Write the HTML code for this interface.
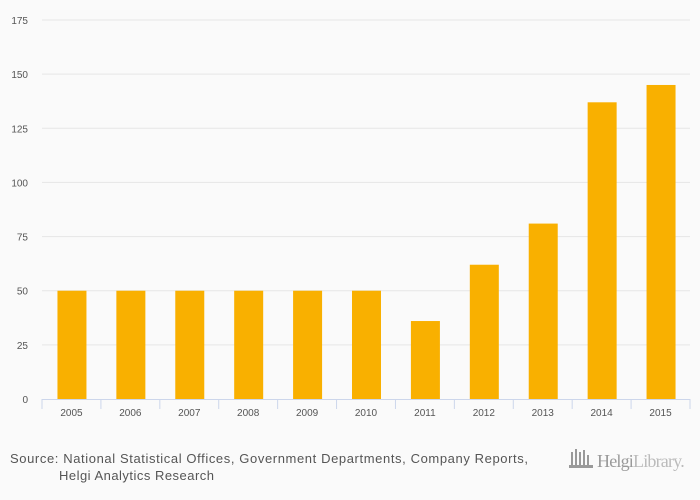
<!DOCTYPE html>
<html><head><meta charset="utf-8"><style>
body{margin:0;background:#fafafa;font-family:"Liberation Sans",sans-serif}
svg{display:block}
</style></head><body>
<svg id="chart" width="700" height="500">
<rect width="700" height="500" fill="#fafafa"/>
<g id="grid"></g><g id="bars"></g><g id="xaxis"></g>
<text x="10" y="463" font-size="13" fill="#555" textLength="518" lengthAdjust="spacing">Source: National Statistical Offices, Government Departments, Company Reports,</text>
<text x="59" y="480" font-size="13" fill="#555" textLength="155" lengthAdjust="spacing">Helgi Analytics Research</text>
<g>
<g fill="#999"><rect x="571" y="452" width="2" height="13"/><rect x="575" y="449" width="2" height="16"/><rect x="579" y="452" width="2" height="13"/><rect x="583" y="450" width="2" height="15"/><rect x="587" y="455" width="2" height="10"/><rect x="569" y="465" width="24" height="3"/></g>
<text x="597" y="467" font-size="18" fill="#999" letter-spacing="-0.8" font-family="Liberation Serif,serif">Helgi<tspan fill="#bbb">Library.</tspan></text>
</g>
</svg>
<script>
const categories=["2005","2006","2007","2008","2009","2010","2011","2012","2013","2014","2015"];
const values=[50,50,50,50,50,50,36,62,81,137,145];
const yTicks=[0,25,50,75,100,125,150,175];
const NS="http://www.w3.org/2000/svg";
const x0=42,x1=690,y0=399,yTop=20,yMax=175;
const step=(x1-x0)/categories.length;
const yScale=v=>y0-(v/yMax)*(y0-yTop);
const xCenter=i=>x0+step*(i+0.5);
function mk(t,a,p){const e=document.createElementNS(NS,t);for(const k in a)e.setAttribute(k,a[k]);p.appendChild(e);return e;}
const grid=document.getElementById('grid'),bars=document.getElementById('bars'),xa=document.getElementById('xaxis');
yTicks.forEach(v=>{
 if(v>0){const l=mk('line',{x1:x0,x2:x1,y1:yScale(v),y2:yScale(v),stroke:'#e6e6e6','stroke-width':1},grid);
 
 }
 const t=mk('text',{x:28,y:yScale(v)+4,'font-size':10,fill:'#555','text-anchor':'end'},grid);
 t.textContent=v;
 
 
});
values.forEach((v,i)=>{
 const r=mk('rect',{x:xCenter(i)-14,y:yScale(v),width:29,height:y0-yScale(v),fill:'#f9b000'},bars);
 
 
});
const ax=mk('line',{x1:x0,x2:x1,y1:y0+0.5,y2:y0+0.5,stroke:'#ccd6eb'},xa);


for(let i=0;i<=categories.length;i++){
 const tk=mk('line',{x1:x0+step*i,x2:x0+step*i,y1:y0,y2:y0+10,stroke:'#ccd6eb'},xa);
 
 
}
categories.forEach((c,i)=>{
 const t=mk('text',{x:xCenter(i),y:416,'font-size':10,fill:'#555','text-anchor':'middle'},xa);
 t.textContent=c;
 
 
});
</script>
</body></html>
